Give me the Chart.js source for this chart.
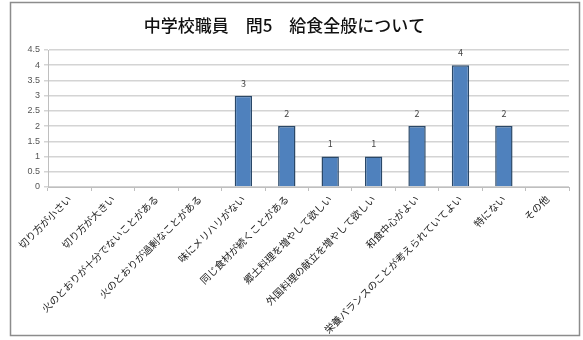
<!DOCTYPE html>
<html>
<head>
<meta charset="utf-8">
<script src="https://cdn.jsdelivr.net/npm/chart.js@4.4.0/dist/chart.umd.min.js"></script>
<style>
  html, body { margin: 0; padding: 0; background: #fff; }
  #wrap { position: relative; width: 583px; height: 340px; }
</style>
</head>
<body>
<div id="wrap"><canvas id="chart" width="583" height="340"></canvas></div>
<script>
const categories = [
  '切り方が小さい',
  '切り方が大きい',
  '火のとおりが十分でないことがある',
  '火のとおりが過剰なことがある',
  '味にメリハリがない',
  '同じ食材が続くことがある',
  '郷土料理を増やして欲しい',
  '外国料理の献立を増やして欲しい',
  '和食中心がよい',
  '栄養バランスのことが考えられていてよい',
  '特にない',
  'その他'
];
const counts = [0, 0, 0, 0, 3, 2, 1, 1, 2, 4, 2, 0];
const yTicks = [0, 0.5, 1, 1.5, 2, 2.5, 3, 3.5, 4, 4.5];

const jpFont = '"Noto Sans CJK JP", "DejaVu Sans", sans-serif';

// outer frame like the spreadsheet chart border
const framePlugin = {
  id: 'frame',
  beforeDraw(chart) {
    const ctx = chart.ctx;
    ctx.save();
    ctx.fillStyle = '#fff';
    ctx.fillRect(0, 0, chart.width, chart.height);
    ctx.strokeStyle = '#8c8c8c';
    ctx.lineWidth = 1.5;
    ctx.strokeRect(10.5, 2.5, 569, 333);
    ctx.restore();
  }
};

// value labels above bars (skip zeros)
const valueLabels = {
  id: 'valueLabels',
  afterDatasetsDraw(chart) {
    const ctx = chart.ctx;
    const meta = chart.getDatasetMeta(0);
    ctx.save();
    ctx.font = '9px ' + jpFont;
    ctx.fillStyle = '#444';
    ctx.textAlign = 'center';
    ctx.textBaseline = 'bottom';
    meta.data.forEach((bar, i) => {
      if (!counts[i]) return;
      ctx.fillText(String(counts[i]), bar.x, bar.y - 8);
    });
    ctx.restore();
  }
};

new Chart(document.getElementById('chart'), {
  type: 'bar',
  data: {
    labels: categories,
    datasets: [{
      data: counts,
      backgroundColor: '#4F81BD',
      borderColor: '#2A4868',
      borderWidth: 1.5,
      barPercentage: 0.4,
      categoryPercentage: 1.0
    }]
  },
  options: {
    responsive: false,
    animation: false,
    layout: { padding: { left: 0, right: 14, top: 0, bottom: 0 } },
    plugins: {
      legend: { display: false },
      tooltip: { enabled: false },
      title: {
        display: true,
        text: '中学校職員　問5　給食全般について',
        color: '#111',
        font: { family: jpFont, size: 17, weight: '500', lineHeight: 1.2 },
        padding: { top: 15, bottom: 14.6 }
      }
    },
    scales: {
      x: {
        offset: true,
        grid: {
          offset: true,
          drawOnChartArea: false,
          drawTicks: true,
          tickLength: 4,
          color: '#bfbfbf'
        },
        border: { color: '#bfbfbf', width: 1 },
        ticks: {
          autoSkip: false,
          minRotation: 45,
          maxRotation: 45,
          padding: 2,
          color: '#222',
          font: { family: jpFont, size: 10 }
        },
        afterFit(scale) { scale.height = 153; }
      },
      y: {
        min: 0,
        max: 4.5,
        afterBuildTicks(scale) { scale.ticks = yTicks.map(v => ({ value: v })); },
        grid: {
          color: '#d4d4d4',
          lineWidth: 1.5,
          tickLength: 4
        },
        border: { color: '#bfbfbf', width: 1 },
        ticks: {
          color: '#555',
          padding: 4,
          font: { family: 'Liberation Sans, Arial, sans-serif', size: 9 },
          callback: v => String(v)
        },
        afterFit(scale) { scale.width = 48; }
      }
    }
  },
  plugins: [framePlugin, valueLabels]
});
</script>
</body>
</html>
